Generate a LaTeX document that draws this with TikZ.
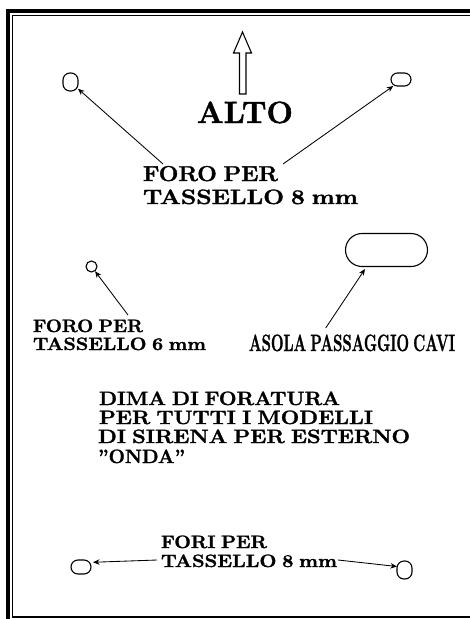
\documentclass[tikz,border=0pt]{standalone}
\usepackage{graphicx}
\usetikzlibrary{arrows.meta}
\tikzset{
  x=1pt,y=-1pt,
  hole/.style={draw,line width=1.1pt,inner sep=0pt,outer sep=0pt,rectangle,rounded corners=#1},
  hole/.default=6pt,
  lab/.style={anchor=base west,inner sep=0pt,outer sep=0pt,align=left},
  lead/.style={line width=0.85pt,-{Stealth[length=6.5pt,width=5.5pt]}},
}
\newcommand{\fittxt}[3]{\resizebox{#1pt}{#2pt}{\fontsize{20}{20}\bfseries\spaceskip=0.28em\relax\special{pdf:code q 2 Tr 0.3 w}#3\special{pdf:code Q}}}
\begin{document}
\begin{tikzpicture}
\useasboundingbox (0,0) rectangle (470,619);
\fill[white] (0,0) rectangle (470,619);
% frame
\draw[line width=4.2pt] (470,11.2) -- (8,11.2) -- (8,619);
\draw[line width=1.1pt] (470,15.8) -- (12.3,15.8) -- (12.3,617) -- (470,617);
% up arrow
\draw[line width=1.1pt] (242.5,32) -- (251.5,53) -- (246,53) -- (246,94) -- (239.5,94) -- (239.5,53) -- (233.5,53) -- cycle;
% holes
\node[hole=7pt,minimum width=15pt,minimum height=18pt] (a) at (70.5,82) {};
\node[hole=6.5pt,minimum width=20pt,minimum height=13pt] (b) at (401,79.5) {};
\node[draw,circle,line width=1.1pt,inner sep=0pt,minimum size=11pt,outer sep=0pt] (c) at (91.5,266.5) {};
\node[hole=16.5pt,minimum width=82pt,minimum height=33pt] (d) at (386.5,250) {};
\node[hole=7pt,minimum width=20pt,minimum height=14pt] (e) at (81,567) {};
\node[hole=7pt,minimum width=15pt,minimum height=18pt] (f) at (404.5,570) {};
% connector free ends
\coordinate (ta) at (163,164);
\coordinate (tb) at (283,164);
\coordinate (tc) at (128,315);
\coordinate (td) at (325.7,328);
\coordinate (dh) at (365,269);
\coordinate (te) at (157,560);
\coordinate (tf) at (338,560);
\draw[lead] (ta) -- (a.-42);
\draw[lead] (tb) -- (b.220);
\draw[lead,shorten >=0.5pt] (tc) -- (c);
\draw[lead] (td) -- (dh);
\draw[lead,shorten >=2pt] (te) -- (e.25);
\draw[lead] (tf) -- (f.155);
% labels
\node[lab] (alto) at (197,123) {\fittxt{96}{21.5}{ALTO}};
\node[lab] (foro8a) at (143,181) {\fittxt{135}{15}{FORO PER}};
\node[lab] (foro8b) at (143,204) {\fittxt{215}{14.5}{TASSELLO 8 mm}};
\node[lab] (foro6a) at (33,332) {\fittxt{110}{12.5}{FORO PER}};
\node[lab] (foro6b) at (33,350) {\fittxt{173}{12.5}{TASSELLO 6 mm}};
\node[lab] (asola) at (249,351) {\fittxt{206}{16.5}{ASOLA PASSAGGIO CAVI}};
\node[lab] (dima1) at (99,405) {\fittxt{241}{13.5}{DIMA DI FORATURA}};
\node[lab] (dima2) at (99,424) {\fittxt{274}{13.5}{PER TUTTI I MODELLI}};
\node[lab] (dima3) at (98,443) {\fittxt{312}{13.5}{DI SIRENA PER ESTERNO}};
\node[lab] (dima4) at (98,463) {\fittxt{87}{13.5}{"ONDA"}};
\node[lab] (fori1) at (161,548) {\fittxt{106}{12.5}{FORI PER}};
\node[lab] (fori2) at (161,567) {\fittxt{176}{12.5}{TASSELLO 8 mm}};
\end{tikzpicture}
\end{document}
